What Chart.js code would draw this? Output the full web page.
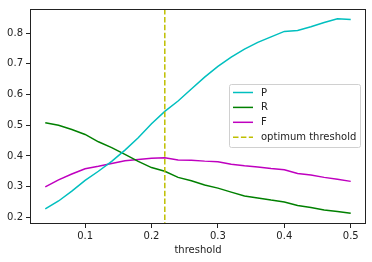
<!DOCTYPE html>
<html>
<head>
<meta charset="utf-8">
<script src="https://cdn.jsdelivr.net/npm/chart.js@4/dist/chart.umd.min.js"></script>
<style>
  html, body { margin: 0; padding: 0; background: #fff; }
  #wrap { width: 372px; height: 262px; position: relative; }
</style>
</head>
<body>
<div id="wrap"><canvas id="grafico"></canvas></div>
<script>
// Dados
const thresholds = [0.04, 0.06, 0.08, 0.10, 0.12, 0.14, 0.16, 0.18, 0.20, 0.22, 0.24, 0.26,
                    0.28, 0.30, 0.32, 0.34, 0.36, 0.38, 0.40, 0.42, 0.44, 0.46, 0.48, 0.50];
const valoresP = [0.227, 0.253, 0.285, 0.320, 0.350, 0.382, 0.419, 0.459, 0.505, 0.545, 0.579, 0.618,
                  0.657, 0.692, 0.722, 0.748, 0.770, 0.788, 0.806, 0.809, 0.821, 0.835, 0.847, 0.845];
const valoresR = [0.508, 0.500, 0.486, 0.470, 0.446, 0.427, 0.405, 0.382, 0.362, 0.350, 0.330, 0.319,
                  0.305, 0.295, 0.282, 0.269, 0.263, 0.256, 0.250, 0.238, 0.232, 0.224, 0.219, 0.213];
const valoresF = [0.299, 0.322, 0.341, 0.358, 0.366, 0.375, 0.384, 0.388, 0.392, 0.394, 0.387, 0.386,
                  0.383, 0.381, 0.373, 0.368, 0.364, 0.359, 0.355, 0.343, 0.338, 0.330, 0.324, 0.317];
const limiarOtimo = 0.22;
const ticksX = [0.1, 0.2, 0.3, 0.4, 0.5];
const ticksY = [0.2, 0.3, 0.4, 0.5, 0.6, 0.7, 0.8];
const rotulos = ['P', 'R', 'F', 'optimum threshold'];

const fonte = '"DejaVu Sans", sans-serif';
const cores = { P: '#00bfbf', R: '#008000', F: '#bf00bf', opt: '#bfbf00' };

function serie(valores) {
    return thresholds.map((t, i) => ({ x: t, y: valores[i] }));
}

// Plugin: moldura, linha do limiar e legenda dentro do gráfico
const extras = {
    id: 'extras',
    afterDatasetsDraw(chart) {
        const { ctx, chartArea: a, scales } = chart;
        const px = scales.x.getPixelForValue(limiarOtimo);
        ctx.save();
        ctx.strokeStyle = cores.opt;
        ctx.lineWidth = 1.5;
        ctx.setLineDash([5.5, 2.4]);
        ctx.beginPath();
        ctx.moveTo(px, a.top);
        ctx.lineTo(px, a.bottom);
        ctx.stroke();
        ctx.setLineDash([]);

        // moldura
        ctx.strokeStyle = '#222';
        ctx.lineWidth = 1;
        ctx.strokeRect(a.left + 0.5, a.top + 0.5, a.right - a.left - 1, a.bottom - a.top - 1);

        // legenda
        const bx = 229.5, by = 84.5, bw = 131, bh = 63;
        ctx.fillStyle = 'rgba(255,255,255,0.8)';
        ctx.strokeStyle = '#d0d0d0';
        ctx.beginPath();
        ctx.roundRect(bx, by, bw, bh, 2);
        ctx.fill();
        ctx.stroke();
        const corLeg = [cores.P, cores.R, cores.F, cores.opt];
        ctx.font = '10px ' + fonte;
        ctx.textBaseline = 'middle';
        rotulos.forEach((r, i) => {
            const y = 92.5 + i * 14.9;
            ctx.strokeStyle = corLeg[i];
            ctx.lineWidth = 1.5;
            if (i === 3) ctx.setLineDash([5.5, 2.4]);
            ctx.beginPath();
            ctx.moveTo(233, y);
            ctx.lineTo(253, y);
            ctx.stroke();
            ctx.setLineDash([]);
            ctx.fillStyle = '#222';
            ctx.fillText(r, 261, y + 0.5);
        });
        ctx.restore();
    }
};

const linha = (label, valores, cor) => ({
    label: label,
    data: serie(valores),
    borderColor: cor,
    backgroundColor: cor,
    borderWidth: 1.5,
    pointRadius: 0,
    tension: 0,
    fill: false
});

const config = {
    type: 'line',
    data: {
        datasets: [
            linha('P', valoresP, cores.P),
            linha('R', valoresR, cores.R),
            linha('F', valoresF, cores.F)
        ]
    },
    options: {
        responsive: true,
        maintainAspectRatio: false,
        animation: false,
        layout: { padding: { left: 0, right: 6, top: 6, bottom: 0 } },
        plugins: {
            legend: { display: false },
            tooltip: { enabled: false }
        },
        scales: {
            x: {
                type: 'linear',
                min: 0.017,
                max: 0.523,
                afterBuildTicks: s => { s.ticks = ticksX.map(v => ({ value: v })); },
                afterFit: s => { s.height = 38; },
                ticks: {
                    color: '#222',
                    font: { family: fonte, size: 10 },
                    padding: 2,
                    maxRotation: 0,
                    callback: v => v.toFixed(1)
                },
                grid: { display: true, drawOnChartArea: false, drawTicks: true, tickLength: 4, color: '#222' },
                border: { display: false },
                title: {
                    display: true,
                    text: 'threshold',
                    color: '#222',
                    font: { family: fonte, size: 10 },
                    padding: { top: 1, bottom: 6 }
                }
            },
            y: {
                type: 'linear',
                min: 0.178,
                max: 0.879,
                afterBuildTicks: s => { s.ticks = ticksY.map(v => ({ value: v })); },
                afterFit: s => { s.width = 30; },
                ticks: {
                    color: '#222',
                    font: { family: fonte, size: 10 },
                    padding: 3,
                    callback: v => v.toFixed(1)
                },
                grid: { display: true, drawOnChartArea: false, drawTicks: true, tickLength: 4, color: '#222' },
                border: { display: false }
            }
        }
    },
    plugins: [extras]
};

const ctx = document.getElementById('grafico').getContext('2d');
const grafico = new Chart(ctx, config);
</script>
</body>
</html>
